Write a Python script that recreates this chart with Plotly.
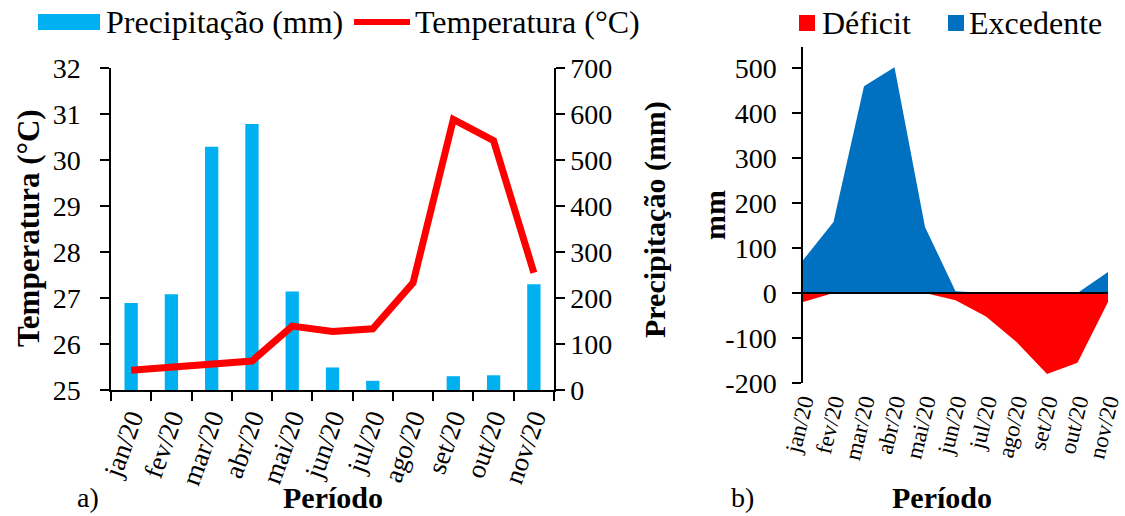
import plotly.graph_objects as go

months = ["jan/20", "fev/20", "mar/20", "abr/20", "mai/20", "jun/20",
          "jul/20", "ago/20", "set/20", "out/20", "nov/20"]
precip_mm = [189, 208, 529, 578, 214, 49, 20, 0, 30, 32, 230]
temp_c = [25.43, 25.50, 25.57, 25.63, 26.39, 26.27, 26.33, 27.33, 30.88, 30.42, 27.55]
excedente = [73, 158, 460, 502, 147, 4, 0, 0, 0, 0, 47]
deficit = [-20, 0, 0, 0, 0, -16, -52, -109, -180, -155, -20]
bh_ticks = [-200, -100, 0, 100, 200, 300, 400, 500]
bh_ticktext = ["-200", "-100", "0", "100", "200", "300", "400", "500"]

FONT = "Liberation Serif, Times New Roman, serif"
BLUE_BAR = "#00B0F0"
RED = "#FF0000"
BLUE_AREA = "#0070C0"

W, H = 1125, 516
def px(x): return x / W
def py(y): return 1 - y / H

fig = go.Figure()

# Panel a: bars on base y (right side), line on y2 overlaying (left side)
fig.add_trace(go.Bar(x=months, y=precip_mm, marker_color=BLUE_BAR, marker_line_width=0,
                     xaxis="x", yaxis="y", showlegend=False, name="Precipitação (mm)"))
fig.add_trace(go.Scatter(x=months, y=temp_c, mode="lines",
                         line=dict(color=RED, width=7, shape="linear"),
                         xaxis="x", yaxis="y2", showlegend=False, name="Temperatura (°C)"))

# Panel b: areas
fig.add_trace(go.Scatter(x=months, y=deficit, mode="lines", line=dict(width=0, color=RED),
                         fill="tozeroy", fillcolor=RED, xaxis="x3", yaxis="y3",
                         showlegend=False, name="Déficit"))
fig.add_trace(go.Scatter(x=months, y=excedente, mode="lines", line=dict(width=0, color=BLUE_AREA),
                         fill="tozeroy", fillcolor=BLUE_AREA, xaxis="x3", yaxis="y3",
                         showlegend=False, name="Excedente"))

tickfont = dict(family=FONT, size=28, color="black")
axis_common = dict(showgrid=False, zeroline=False, linecolor="black", linewidth=1.5,
                   ticks="outside", ticklen=9, tickwidth=1.5, tickcolor="black",
                   tickfont=tickfont, automargin=False)

fig.update_layout(
    width=W, height=H,
    margin=dict(l=0, r=0, t=0, b=0),
    font=dict(family=FONT, color="black"),
    plot_bgcolor="white", paper_bgcolor="white",
    bargap=0.67,
    showlegend=False,
    xaxis=dict(domain=[px(111), px(554)], type="category", showline=True,
               tickson="boundaries", tickangle=-70, anchor="y",
               **{**axis_common, "tickfont": dict(family=FONT, size=27, color="black")}),
    yaxis=dict(domain=[py(390), py(68)], range=[0, 700], dtick=100, side="right",
               showline=True, anchor="x", **axis_common),
    yaxis2=dict(range=[25, 32], dtick=1, side="left", overlaying="y", showline=True,
                anchor="x", ticklabelstandoff=14, **axis_common),
    xaxis3=dict(domain=[px(803), px(1108)], type="category", range=[0, 10], dtick=1,
                showline=False, showgrid=False, zeroline=False, ticks="",
                tickangle=-76, tickfont=dict(family=FONT, size=23, color="black"),
                anchor="y3", automargin=False),
    yaxis3=dict(domain=[py(383), py(47)], range=[-200, 547],
                tickvals=bh_ticks, ticktext=bh_ticktext, ticklabelstandoff=10,
                showline=True, anchor="x3", **axis_common),
)

shapes = [
    # zero line in panel b
    dict(type="line", xref="x3 domain", yref="y3", x0=0, x1=1, y0=0, y1=0,
         line=dict(color="black", width=2), layer="above"),
    # legend swatches
    dict(type="rect", xref="paper", yref="paper", x0=px(38), x1=px(100), y0=py(30), y1=py(14),
         fillcolor=BLUE_BAR, line=dict(width=0)),
    dict(type="line", xref="paper", yref="paper", x0=px(354), x1=px(410), y0=py(22), y1=py(22),
         line=dict(color=RED, width=6)),
    dict(type="rect", xref="paper", yref="paper", x0=px(799), x1=px(815), y0=py(31), y1=py(15),
         fillcolor=RED, line=dict(width=0)),
    dict(type="rect", xref="paper", yref="paper", x0=px(948), x1=px(964), y0=py(31), y1=py(15),
         fillcolor=BLUE_AREA, line=dict(width=0)),
]
fig.update_layout(shapes=shapes)

legend_font = dict(family=FONT, size=32, color="black")
for t, x, y in [("Precipitação (mm)", 104, 22), ("Temperatura (°C)", 413, 22),
                ("Déficit", 820, 23), ("Excedente", 967, 23)]:
    fig.add_annotation(text=t, xref="paper", yref="paper", x=px(x), y=py(y),
                       showarrow=False, font=legend_font, xanchor="left", yanchor="middle")

ann = [
    dict(text="<b>Temperatura (°C)</b>", x=px(28), y=py(228), textangle=-90, size=31),
    dict(text="<b>Precipitação (mm)</b>", x=px(655), y=py(220), textangle=-90, size=30),
    dict(text="<b>mm</b>", x=px(714), y=py(215), textangle=-90, size=30),
    dict(text="<b>Período</b>", x=px(333), y=py(497), textangle=0, size=30),
    dict(text="<b>Período</b>", x=px(942), y=py(497), textangle=0, size=30),
]
for a in ann:
    size = a.pop("size")
    fig.add_annotation(xref="paper", yref="paper", showarrow=False,
                       font=dict(family=FONT, size=size, color="black"),
                       xanchor="center", yanchor="middle", **a)
for t, x in [("a)", 88), ("b)", 742)]:
    fig.add_annotation(text=t, xref="paper", yref="paper", x=px(x), y=py(497),
                       showarrow=False, font=dict(family=FONT, size=28, color="black"),
                       xanchor="center", yanchor="middle")

fig.write_html("out.html")
